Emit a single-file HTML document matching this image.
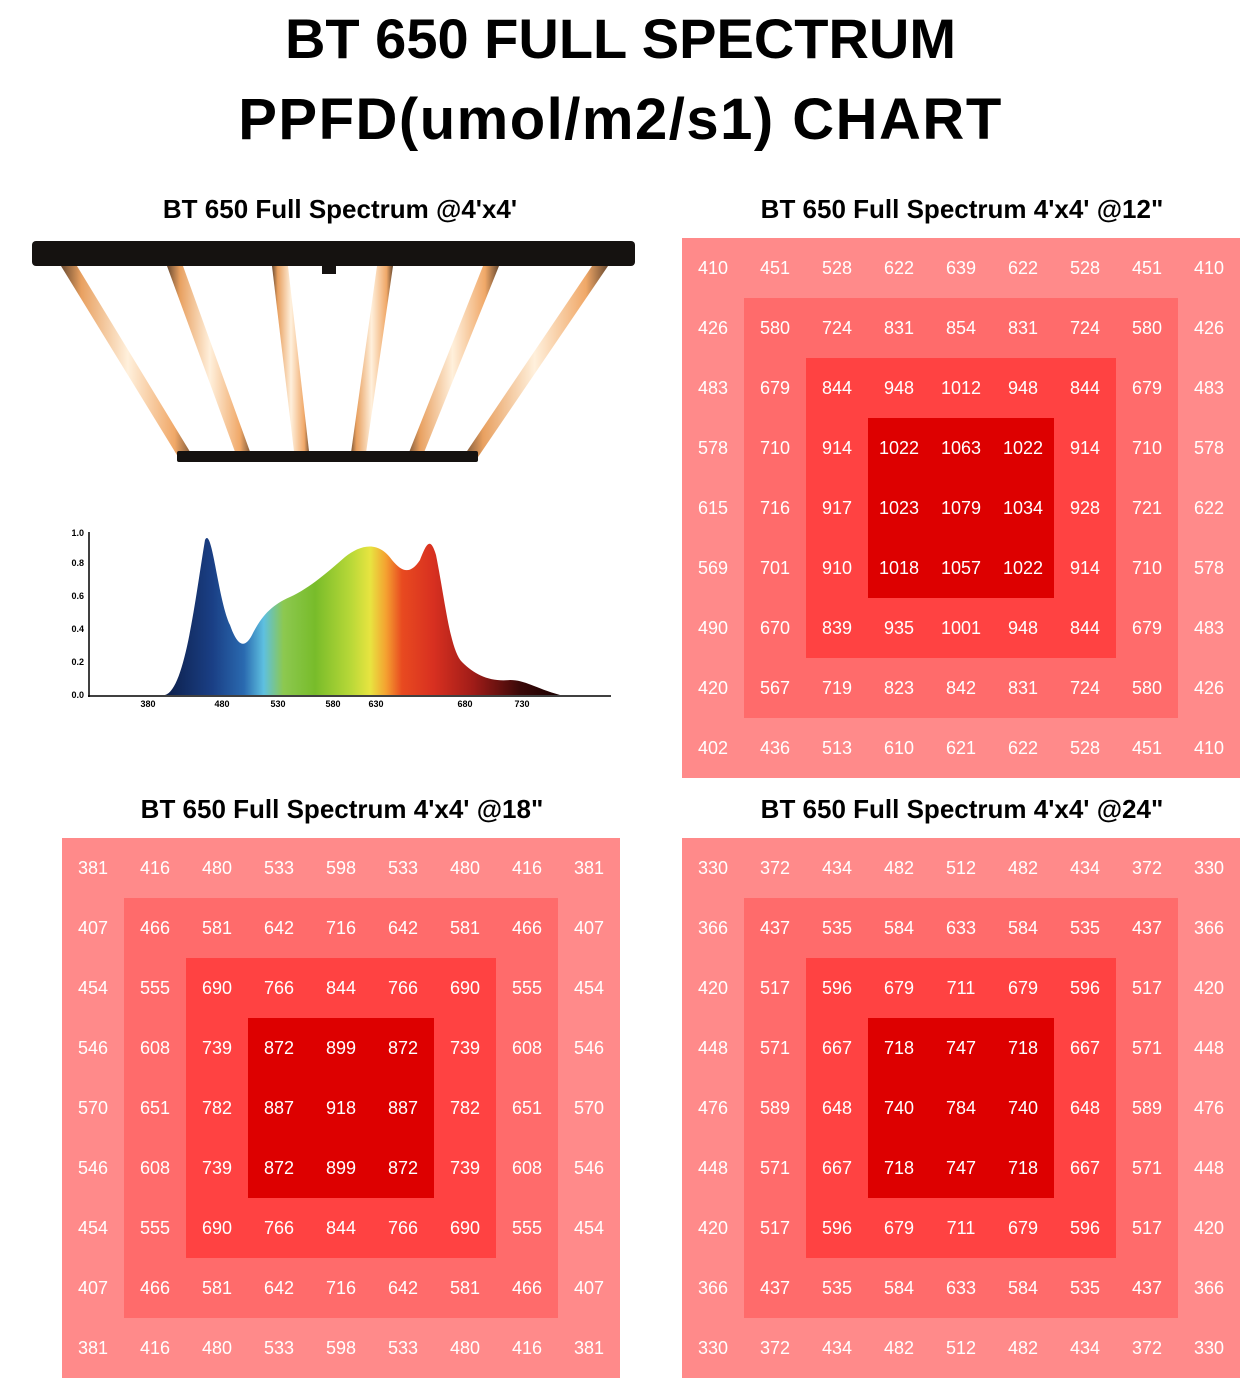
<!DOCTYPE html>
<html><head><meta charset="utf-8"><style>
body{margin:0;width:1241px;height:1379px;background:#fff;position:relative;overflow:hidden;font-family:"Liberation Sans",sans-serif}
.t{position:absolute;left:0;width:1241px;text-align:center;font-weight:bold;font-size:56px;color:#000}
.st{position:absolute;font-weight:bold;font-size:26px;text-align:center;width:560px}
.g{position:absolute;width:558px;height:540px}
.g div{position:absolute}
.n{position:absolute;width:62px;height:60px;line-height:60px;text-align:center;color:#fff;font-size:18px}
</style></head><body>
<div class="t" style="top:6px">BT 650 FULL SPECTRUM</div>
<div class="t" style="top:86px;font-size:58px;letter-spacing:1.5px">PPFD(umol/m2/s1) CHART</div>
<div class="st" style="left:60px;top:194px">BT 650 Full Spectrum @4'x4'</div>
<div class="st" style="left:682px;top:194px">BT 650 Full Spectrum 4'x4' @12"</div>
<div class="st" style="left:62px;top:794px">BT 650 Full Spectrum 4'x4' @18"</div>
<div class="st" style="left:682px;top:794px">BT 650 Full Spectrum 4'x4' @24"</div>

<svg style="position:absolute;left:0;top:0" width="660" height="720">
<defs>
<linearGradient id="bar" x1="0" x2="1"><stop offset="0" stop-color="#6a4a30"/><stop offset="0.15" stop-color="#e8a060"/><stop offset="0.5" stop-color="#fff0dc"/><stop offset="0.85" stop-color="#f0a868"/><stop offset="1" stop-color="#6a4a30"/></linearGradient>
<linearGradient id="sp" x1="165" x2="560" gradientUnits="userSpaceOnUse">
<stop offset="0" stop-color="#0d1f4a"/><stop offset="0.12" stop-color="#1a3f85"/><stop offset="0.2" stop-color="#2a6ab0"/><stop offset="0.25" stop-color="#5ec0e0"/><stop offset="0.3" stop-color="#8cc850"/><stop offset="0.38" stop-color="#78bc2a"/><stop offset="0.47" stop-color="#b8d838"/><stop offset="0.52" stop-color="#e8e440"/><stop offset="0.56" stop-color="#f4a030"/><stop offset="0.6" stop-color="#e84a20"/><stop offset="0.68" stop-color="#d83020"/><stop offset="0.78" stop-color="#a01c18"/><stop offset="0.9" stop-color="#3a0808"/><stop offset="1" stop-color="#1a0000"/></linearGradient>
</defs>
<g>
<polygon points="61,266 77,266 195,460 180,460" fill="url(#bar)"/>
<polygon points="167,266 183,266 253,460 238,460" fill="url(#bar)"/>
<polygon points="272,266 288,266 310,460 295,460" fill="url(#bar)"/>
<polygon points="377,266 393,266 365,460 350,460" fill="url(#bar)"/>
<polygon points="483,266 499,266 421,460 406,460" fill="url(#bar)"/>
<polygon points="592,266 608,266 476,460 461,460" fill="url(#bar)"/>
<rect x="32" y="241" width="603" height="25" rx="4" fill="#151210"/>
<rect x="177" y="451" width="301" height="11" rx="2" fill="#151210"/>
<rect x="322" y="264" width="14" height="10" fill="#151210"/>
</g>
<path d="M165,695 C185,690 195,600 205,540 C212,525 218,600 230,625 C237,645 244,650 252,635 C262,615 272,605 290,597 C310,588 330,570 345,557 C360,545 378,540 392,560 C402,572 410,575 420,560 C426,545 430,535 436,555 C445,600 450,650 462,662 C475,675 490,682 510,680 C525,680 535,688 560,695 Z" fill="url(#sp)"/>
<line x1="89" y1="532" x2="89" y2="697" stroke="#000" stroke-width="1.5"/>
<line x1="88" y1="696" x2="611" y2="696" stroke="#000" stroke-width="1.5"/>
<g font-size="9" font-weight="bold" text-anchor="end">
<text x="84" y="536">1.0</text><text x="84" y="566">0.8</text><text x="84" y="599">0.6</text><text x="84" y="632">0.4</text><text x="84" y="665">0.2</text><text x="84" y="698">0.0</text>
</g>
<g font-size="9" font-weight="bold" text-anchor="middle">
<text x="148" y="707">380</text><text x="222" y="707">480</text><text x="278" y="707">530</text><text x="333" y="707">580</text><text x="376" y="707">630</text><text x="465" y="707">680</text><text x="522" y="707">730</text>
</g>
</svg>

<div id="g1" class="g" style="left:682px;top:238px"></div>
<div id="g2" class="g" style="left:62px;top:838px"></div>
<div id="g3" class="g" style="left:682px;top:838px"></div>
<script>
var D={g1:[[410,451,528,622,639,622,528,451,410],[426,580,724,831,854,831,724,580,426],[483,679,844,948,1012,948,844,679,483],[578,710,914,1022,1063,1022,914,710,578],[615,716,917,1023,1079,1034,928,721,622],[569,701,910,1018,1057,1022,914,710,578],[490,670,839,935,1001,948,844,679,483],[420,567,719,823,842,831,724,580,426],[402,436,513,610,621,622,528,451,410]],
g2:[[381,416,480,533,598,533,480,416,381],[407,466,581,642,716,642,581,466,407],[454,555,690,766,844,766,690,555,454],[546,608,739,872,899,872,739,608,546],[570,651,782,887,918,887,782,651,570],[546,608,739,872,899,872,739,608,546],[454,555,690,766,844,766,690,555,454],[407,466,581,642,716,642,581,466,407],[381,416,480,533,598,533,480,416,381]],
g3:[[330,372,434,482,512,482,434,372,330],[366,437,535,584,633,584,535,437,366],[420,517,596,679,711,679,596,517,420],[448,571,667,718,747,718,667,571,448],[476,589,648,740,784,740,648,589,476],[448,571,667,718,747,718,667,571,448],[420,517,596,679,711,679,596,517,420],[366,437,535,584,633,584,535,437,366],[330,372,434,482,512,482,434,372,330]]};
var C=['#ff8a8a','#ff6b6b','#ff4242','#dd0000'];
for(var k in D){var el=document.getElementById(k),h='';
for(var i=0;i<4;i++){var o=i*62,p=i*60;h+='<div style="left:'+o+'px;top:'+p+'px;width:'+(558-2*o)+'px;height:'+(540-2*p)+'px;background:'+C[i]+'"></div>';}
for(var r=0;r<9;r++)for(var c=0;c<9;c++)h+='<span class="n" style="left:'+(c*62)+'px;top:'+(r*60)+'px">'+D[k][r][c]+'</span>';
el.innerHTML=h;}
</script>
</body></html>
